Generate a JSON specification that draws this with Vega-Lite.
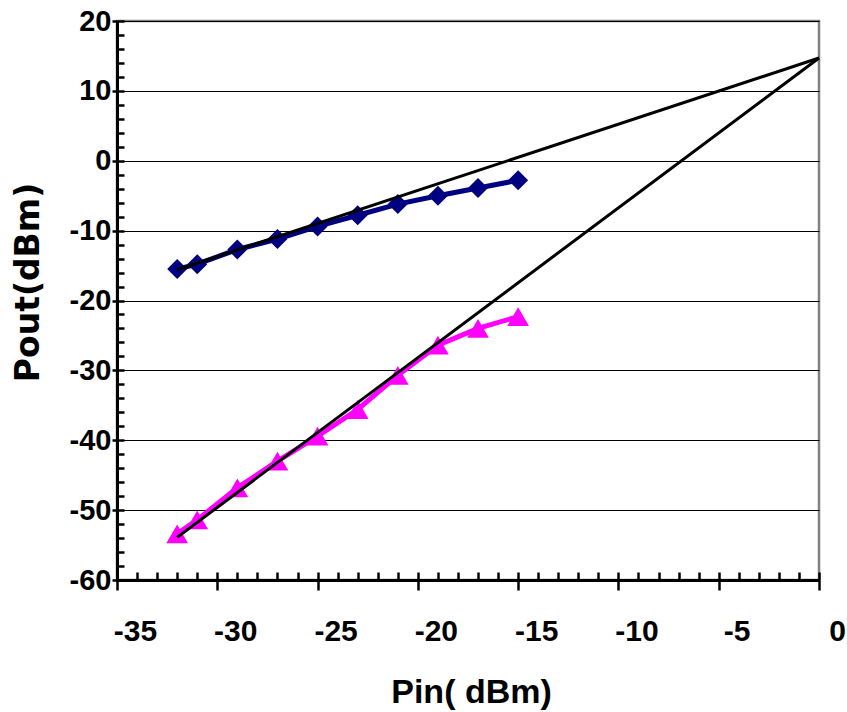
{
  "$schema": "https://vega.github.io/schema/vega-lite/v6.json",
  "width": 702,
  "height": 559,
  "autosize": {"type": "none"},
  "padding": {"left": 117, "top": 21, "right": 28, "bottom": 132},
  "background": "white",
  "config": {"view": {"stroke": "#808080", "strokeWidth": 2.5}},
  "datasets": {
    "meas": [
      {"series": "Fundamental", "pin": -32, "pout": -15.5},
      {"series": "Fundamental", "pin": -31, "pout": -14.8},
      {"series": "Fundamental", "pin": -29, "pout": -12.7},
      {"series": "Fundamental", "pin": -27, "pout": -11.2},
      {"series": "Fundamental", "pin": -25, "pout": -9.4},
      {"series": "Fundamental", "pin": -23, "pout": -7.8},
      {"series": "Fundamental", "pin": -21, "pout": -6.2},
      {"series": "Fundamental", "pin": -19, "pout": -5.0},
      {"series": "Fundamental", "pin": -17, "pout": -3.9},
      {"series": "Fundamental", "pin": -15, "pout": -2.8},
      {"series": "IM3", "pin": -32, "pout": -53.4},
      {"series": "IM3", "pin": -31, "pout": -51.4},
      {"series": "IM3", "pin": -29, "pout": -46.8},
      {"series": "IM3", "pin": -27, "pout": -43.0},
      {"series": "IM3", "pin": -25, "pout": -39.4},
      {"series": "IM3", "pin": -23, "pout": -35.6},
      {"series": "IM3", "pin": -21, "pout": -30.7},
      {"series": "IM3", "pin": -19, "pout": -26.4},
      {"series": "IM3", "pin": -17, "pout": -24.0},
      {"series": "IM3", "pin": -15, "pout": -22.3}
    ],
    "fit": [
      {"line": "A", "pin": -32, "pout": -15.6},
      {"line": "A", "pin": 0, "pout": 14.7},
      {"line": "B", "pin": -32, "pout": -53.9},
      {"line": "B", "pin": 0, "pout": 14.7}
    ]
  },
  "resolve": {"axis": {"x": "independent", "y": "independent"}},
  "layer": [
    {
      "data": {"name": "meas"},
      "mark": {"type": "line", "strokeWidth": 5},
      "encoding": {
        "x": {
          "field": "pin", "type": "quantitative",
          "scale": {"domain": [-35, 0], "nice": false, "zero": false},
          "axis": {
            "orient": "bottom",
            "values": [-35, -30, -25, -20, -15, -10, -5, 0],
            "labelExpr": "'' + datum.value",
            "title": "Pin( dBm)",
            "titleFont": "Liberation Sans", "titleFontWeight": "bold", "titleFontSize": 34, "titleColor": "black",
            "titleX": 354, "titleY": 122, "titleAlign": "center", "titleBaseline": "alphabetic",
            "labelFont": "Liberation Sans", "labelFontWeight": "bold", "labelFontSize": 30, "labelColor": "black",
            "labelOffset": 18, "labelBaseline": "alphabetic", "labelPadding": 50,
            "labelFlush": false, "labelOverlap": false,
            "tickSize": 10, "tickColor": "black", "tickWidth": 2.5,
            "domainColor": "black", "domainWidth": 3, "grid": false
          }
        },
        "y": {
          "field": "pout", "type": "quantitative",
          "scale": {"domain": [-60, 20], "nice": false, "zero": false},
          "axis": {
            "orient": "left",
            "values": [-60, -50, -40, -30, -20, -10, 0, 10, 20],
            "labelExpr": "'' + datum.value",
            "title": "Pout(dBm)",
            "titleFont": "DejaVu Sans", "titleFontWeight": "bold", "titleFontSize": 33, "titleColor": "black",
            "titleX": -89, "titleY": 261, "titleAlign": "center", "titleBaseline": "middle", "titleAngle": 270,
            "labelFont": "Liberation Sans", "labelFontWeight": "bold", "labelFontSize": 29, "labelColor": "black",
            "labelPadding": 1, "labelFlush": false, "labelOverlap": false,
            "tickSize": 5, "tickColor": "black", "tickWidth": 2.5,
            "domainColor": "black", "domainWidth": 3,
            "grid": true, "gridColor": "black", "gridWidth": 1
          }
        },
        "color": {
          "field": "series", "type": "nominal",
          "scale": {"domain": ["Fundamental", "IM3"], "range": ["#000080", "#FF00FF"]},
          "legend": null
        }
      }
    },
    {
      "data": {"name": "meas"},
      "mark": {"type": "point", "filled": true, "opacity": 1, "strokeWidth": 0},
      "encoding": {
        "x": {
          "field": "pin", "type": "quantitative",
          "axis": {
            "orient": "bottom",
            "values": [-35, -34, -33, -32, -31, -30, -29, -28, -27, -26, -25, -24, -23, -22, -21, -20, -19, -18, -17, -16, -15, -14, -13, -12, -11, -10, -9, -8, -7, -6, -5, -4, -3, -2, -1, 0],
            "labels": false, "title": null, "domain": false, "grid": false,
            "tickSize": -8, "tickColor": "black", "tickWidth": 2.5
          }
        },
        "y": {
          "field": "pout", "type": "quantitative",
          "axis": {
            "orient": "left",
            "values": [-60, -58, -56, -54, -52, -50, -48, -46, -44, -42, -40, -38, -36, -34, -32, -30, -28, -26, -24, -22, -20, -18, -16, -14, -12, -10, -8, -6, -4, -2, 0, 2, 4, 6, 8, 10, 12, 14, 16, 18, 20],
            "labels": false, "title": null, "domain": false, "grid": false,
            "tickSize": -7, "tickColor": "black", "tickWidth": 2.5
          }
        },
        "color": {"field": "series", "type": "nominal", "legend": null},
        "shape": {
          "field": "series", "type": "nominal",
          "scale": {"domain": ["Fundamental", "IM3"], "range": ["diamond", "triangle-up"]},
          "legend": null
        },
        "size": {
          "field": "series", "type": "nominal",
          "scale": {"domain": ["Fundamental", "IM3"], "range": [400, 470]},
          "legend": null
        }
      }
    },
    {
      "data": {"name": "fit"},
      "mark": {"type": "line", "color": "black", "strokeWidth": 3},
      "encoding": {
        "x": {"field": "pin", "type": "quantitative", "axis": null},
        "y": {"field": "pout", "type": "quantitative", "axis": null},
        "detail": {"field": "line", "type": "nominal"}
      }
    }
  ]
}
